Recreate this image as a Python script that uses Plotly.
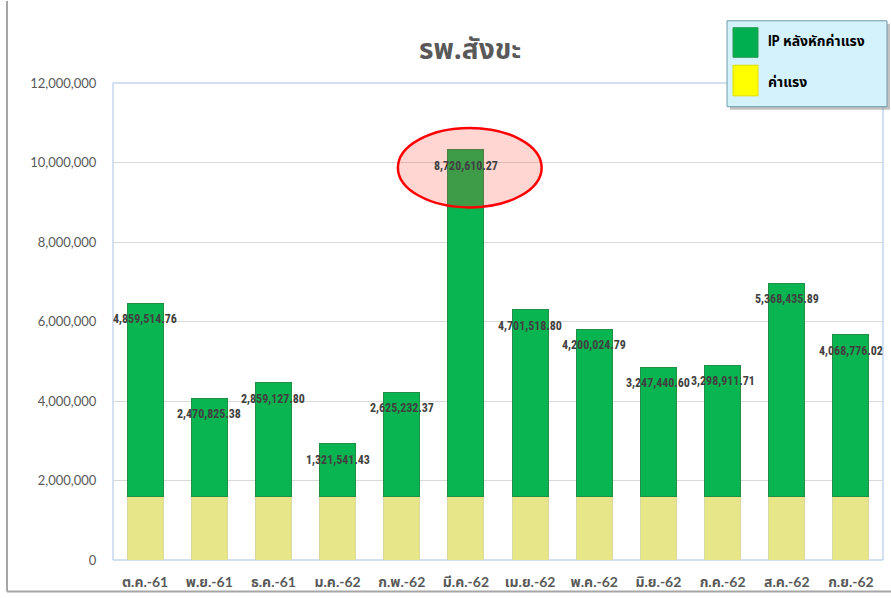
import plotly.graph_objects as go

months = ["ต.ค.-61", "พ.ย.-61", "ธ.ค.-61", "ม.ค.-62", "ก.พ.-62", "มี.ค.-62",
          "เม.ย.-62", "พ.ค.-62", "มิ.ย.-62", "ก.ค.-62", "ส.ค.-62", "ก.ย.-62"]
ip_after = [4859514.76, 2470825.38, 2859127.80, 1321541.43, 2625232.37, 8720610.27,
            4701518.80, 4200024.79, 3247440.60, 3298911.71, 5368435.89, 4068776.02]
wage = [1600000] * 12
y_ticks = [0, 2000000, 4000000, 6000000, 8000000, 10000000, 12000000]
y_tick_labels = ["0", "2,000,000", "4,000,000", "6,000,000", "8,000,000", "10,000,000", "12,000,000"]
title_text = "รพ.สังขะ"
legend_names = ["IP หลังหักค่าแรง", "ค่าแรง"]
highlight_index = 5

THAI = "Noto Sans Thai, Noto Sans, Liberation Sans, sans-serif"
NARROW = "Liberation Sans Narrow, Arial Narrow, Roboto Condensed, Noto Sans Thai, sans-serif"
CAL = "Lato, Noto Sans Thai, sans-serif"

fig = go.Figure()
fig.add_trace(go.Bar(x=months, y=wage, name=legend_names[1],
                     marker=dict(color="#e7e78a", line=dict(color="#d8d8a0", width=1)),
                     width=0.56, showlegend=False, hoverinfo="skip"))
fig.add_trace(go.Bar(x=months, y=ip_after, name=legend_names[0],
                     marker=dict(color="#08b550", line=dict(color="#1f8f45", width=1)),
                     width=0.56, showlegend=False, hoverinfo="skip"))

for m, w, v in zip(months, wage, ip_after):
    fig.add_annotation(x=m, y=w + v, yshift=-16, text=f"<b>{v:,.2f}</b>", showarrow=False,
                       font=dict(family=NARROW, size=12, color="#404040"),
                       xanchor="center", yanchor="middle")

shapes = []
tot = wage[highlight_index] + ip_after[highlight_index]
shapes.append(dict(type="circle", xref="x", yref="y",
                   x0=highlight_index - 1.06, x1=highlight_index + 1.18,
                   y0=tot - 1450000, y1=tot + 550000,
                   fillcolor="rgba(255,70,50,0.22)", line=dict(color="#ff0000", width=2.5),
                   layer="above"))

shapes.append(dict(type="rect", xref="paper", yref="paper", x0=0, x1=1, y0=0, y1=1,
                   line=dict(color="#a6c1e6", width=1), fillcolor="rgba(0,0,0,0)", layer="below"))
T, B = 83, 566
W = 770.0
H = float(B - T)
def px(x):
    return (x - 113) / W
def py(y):
    return (B - y) / H
shapes.append(dict(type="line", xref="paper", yref="paper", x0=px(7), x1=px(7), y0=py(0), y1=py(598),
                   line=dict(color="#a6a6a6", width=2)))
shapes.append(dict(type="line", xref="paper", yref="paper", x0=px(7), x1=px(891), y0=py(598), y1=py(598),
                   line=dict(color="#a6a6a6", width=2)))

shapes.append(dict(type="rect", xref="paper", yref="paper", x0=px(730), x1=px(890), y0=py(110), y1=py(23),
                   line=dict(width=0), fillcolor="rgba(120,120,120,0.45)"))
shapes.append(dict(type="rect", xref="paper", yref="paper", x0=px(727), x1=px(887), y0=py(107), y1=py(20),
                   line=dict(color="#6e9aa6", width=1), fillcolor="#d3f2fb"))
shapes.append(dict(type="rect", xref="paper", yref="paper", x0=px(733), x1=px(758), y0=py(57), y1=py(27),
                   line=dict(color="#2e9a55", width=1), fillcolor="#00b050"))
shapes.append(dict(type="rect", xref="paper", yref="paper", x0=px(733), x1=px(758), y0=py(96), y1=py(65),
                   line=dict(color="#e0e000", width=1), fillcolor="#ffff00"))
fig.add_annotation(xref="paper", yref="paper", x=px(766), y=py(40), text=f"<b>{legend_names[0]}</b>",
                   showarrow=False, xanchor="left", yanchor="middle",
                   font=dict(family=NARROW, size=14, color="#000000"))
fig.add_annotation(xref="paper", yref="paper", x=px(766), y=py(82), text=f"<b>{legend_names[1]}</b>",
                   showarrow=False, xanchor="left", yanchor="middle",
                   font=dict(family=NARROW, size=14, color="#000000"))

fig.add_annotation(xref="paper", yref="paper", x=px(470), y=py(50), text=f"<b>{title_text}</b>",
                   showarrow=False, xanchor="center", yanchor="middle",
                   font=dict(family=THAI, size=28, color="#595959"))

fig.update_layout(
    width=891, height=598,
    margin=dict(l=113, r=8, t=T, b=598 - B),
    paper_bgcolor="white", plot_bgcolor="white",
    barmode="stack", bargap=0.44,
    shapes=shapes,
    xaxis=dict(showgrid=False, showline=False, ticks="outside", ticklen=9, tickcolor="rgba(0,0,0,0)",
               tickfont=dict(family=CAL, size=14, color="#595959", weight="bold"),
               range=[-0.5, 11.5]),
    yaxis=dict(range=[0, 12000000], tickvals=y_ticks, ticktext=y_tick_labels,
               showgrid=True, gridcolor="#d9d9d9", gridwidth=1, zeroline=False,
               showline=False, ticks="outside", ticklen=13, tickcolor="rgba(0,0,0,0)",
               tickfont=dict(family=CAL, size=13, color="#595959")),
)

fig.write_html("out.html", config={"displayModeBar": False},
               post_script="document.body.style.margin='0';document.body.style.overflow='hidden';")
